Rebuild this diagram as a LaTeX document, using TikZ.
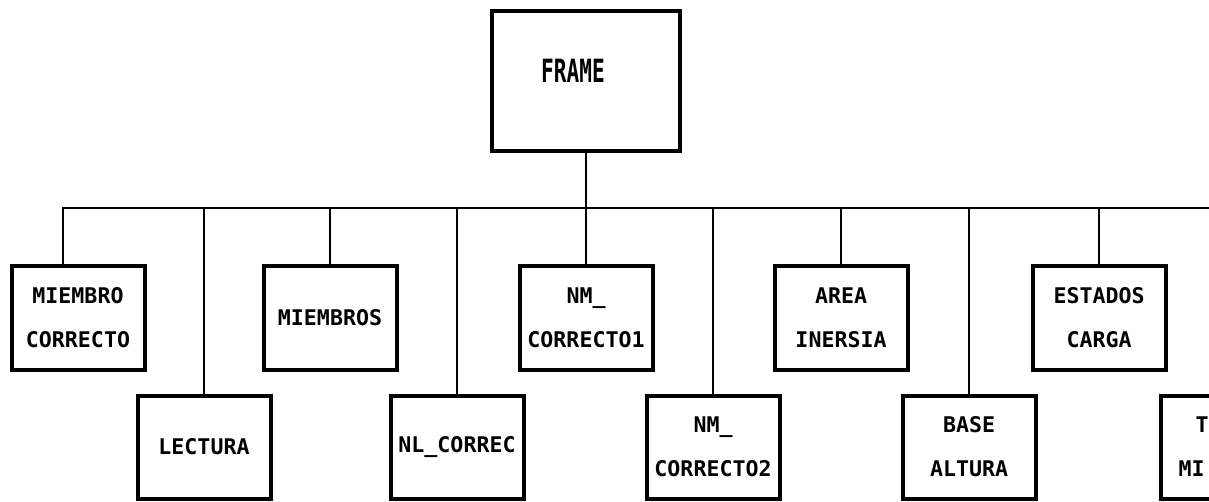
\documentclass[tikz,border=0pt]{standalone}
\usepackage{fontspec}
\usepackage{tikz}
\usetikzlibrary{positioning}
\newfontfamily\boxfont{DejaVu Sans Mono}
\newfontfamily\framefont[FakeStretch=0.66]{DejaVu Sans Mono}

\begin{document}
\begin{tikzpicture}[x=1pt,y=-1pt,
	caja/.style={draw, line width=4pt, minimum width=133pt, minimum height=103pt, inner sep=0pt, align=center, font=\boxfont\bfseries\fontsize{21.6}{44}\selectfont},
	linea/.style={line width=1.8pt}]
			\path[use as bounding box, clip] (0,0) rectangle (1209,502);
			
			\node[caja, minimum width=188pt, minimum height=140pt,
				label={[xshift=-13pt, yshift=10pt, font=\framefont\bfseries\fontsize{32}{32}\selectfont]center:FRAME}] (frame) at (586,81) {};
			
			% primera fila
			\node[caja] (mc) at (78,318) {MIEMBRO\\CORRECTO};
			\node[caja] (miembros) at (330,318) {MIEMBROS};
			\node[caja] (nm1) at (586,318) {NM\_\\CORRECTO1};
			\node[caja] (area) at (841,318) {AREA\\INERSIA};
			\node[caja] (estados) at (1099,318) {ESTADOS\\CARGA};
			
			% segunda fila
			\node[caja] (lectura) at (204,447) {LECTURA};
			\node[caja] (nlcorrec) at (457,447) {NL\_CORREC};
			\node[caja] (nm2) at (713,447) {NM\_\\CORRECTO2};
			\node[caja] (base) at (969,447) {BASE\\ALTURA};
			\node[caja, align=left, text width=97pt, inner xsep=18pt] (tmi) at (1227,447) {\hspace*{17pt}T\\MI};
			
			\coordinate (busL) at (63,208);
			\coordinate (busR) at (1209,208);
			\draw[linea] (mc.north -| busL) -- (busL) -- (busR);
			\draw[linea] (frame.south) -- (frame.south |- busL);
			\foreach \n in {miembros, nm1, area, estados, lectura, nlcorrec, nm2, base, tmi}
				\draw[linea] (\n.north) -- (\n.north |- busL);
			\end{tikzpicture}
\end{document}
